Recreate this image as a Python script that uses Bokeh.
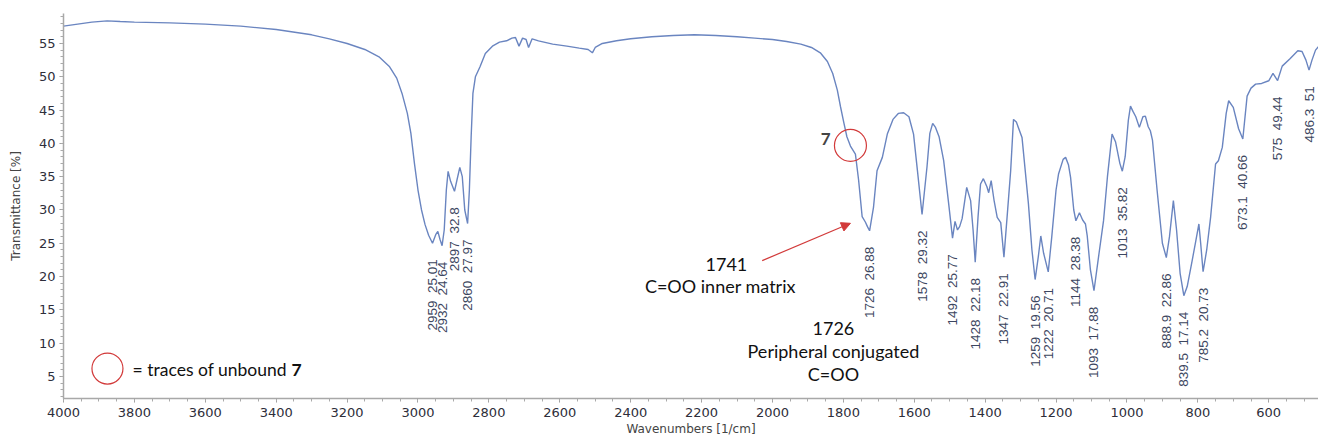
from bokeh.plotting import figure
from bokeh.models import Range1d, SingleIntervalTicker, Label, Arrow, NormalHead, ColumnDataSource
from bokeh.core.properties import value
from bokeh.embed import file_html
from bokeh.resources import INLINE

# ---- spectrum (wavenumber 1/cm, transmittance %) ----
wavenumber = [
    4000, 3960, 3920, 3877, 3840, 3800, 3700, 3600, 3500, 3400, 3300, 3250, 3200, 3150,
    3110, 3080, 3060, 3045, 3030, 3020, 3010, 3000, 2990, 2980, 2970, 2959, 2950, 2944,
    2938, 2932, 2926, 2920, 2915, 2908, 2902, 2897, 2890, 2882, 2875, 2868, 2860, 2855,
    2850, 2845, 2838, 2825, 2810, 2790, 2770, 2750, 2735, 2725, 2715, 2705, 2695, 2688,
    2678, 2660, 2620, 2580, 2545, 2520, 2508, 2500, 2480, 2440, 2400, 2340, 2280, 2220,
    2160, 2100, 2050, 2000, 1960, 1920, 1890, 1865, 1845, 1830, 1817, 1808, 1799, 1790,
    1780, 1766, 1757, 1747, 1738, 1732, 1726, 1715, 1705, 1690, 1676, 1660, 1645, 1630,
    1615, 1602, 1591, 1578, 1564, 1556, 1548, 1540, 1530, 1517, 1503, 1492, 1485, 1478,
    1472, 1465, 1452, 1441, 1434, 1428, 1420, 1413, 1405, 1395, 1390, 1383, 1375, 1366,
    1356, 1347, 1338, 1328, 1320, 1312, 1296, 1278, 1268, 1259, 1250, 1243, 1235, 1222,
    1212, 1200, 1193, 1180, 1173, 1165, 1159, 1150, 1144, 1134, 1125, 1117, 1112, 1103,
    1093, 1080, 1066, 1055, 1042, 1032, 1020, 1013, 1005, 996, 990, 983, 975, 965, 955,
    948, 940, 934, 928, 915, 900, 888.9, 880, 869, 860, 850, 839.5, 830, 816, 807, 797,
    792, 785.2, 775, 764, 750, 742, 731, 720, 713, 700, 685, 673.1, 661, 650, 637, 620,
    600, 588, 575, 562, 540, 518, 506, 495, 486.3, 478, 468, 460,
]
transmittance = [
    57.6, 57.9, 58.2, 58.4, 58.3, 58.2, 58.1, 57.9, 57.6, 57.1, 56.3, 55.7, 55.0, 54.1,
    53.0, 51.5, 49.8, 47.5, 44.5, 41.5, 37.0, 33.0, 30.0, 27.8, 26.2, 25.01, 26.3, 26.8,
    25.6, 24.64, 27.0, 33.0, 35.8, 34.3, 33.5, 32.8, 34.5, 36.4, 35.0, 30.0, 27.97, 33.0,
    41.0, 47.5, 50.0, 51.5, 53.5, 54.6, 55.2, 55.4, 55.8, 55.9, 54.6, 55.8, 55.6, 54.4,
    55.7, 55.4, 54.9, 54.6, 54.3, 54.1, 53.6, 54.4, 55.0, 55.4, 55.7, 56.0, 56.2, 56.3,
    56.2, 56.0, 55.8, 55.6, 55.3, 54.9, 54.4, 53.6, 52.3, 50.5, 48.0, 45.5, 43.2, 41.0,
    39.6, 38.4, 34.5, 29.0, 28.2, 27.5, 26.88, 30.4, 35.9, 37.9, 41.4, 43.6, 44.5, 44.6,
    44.0, 41.4, 35.9, 29.32, 36.5, 41.5, 43.0, 42.4, 41.0, 37.4, 31.0, 25.77, 28.3, 27.0,
    27.5, 28.7, 33.4, 31.4, 27.0, 22.18, 29.0, 33.9, 34.7, 33.5, 32.6, 34.4, 31.5, 28.9,
    28.1, 22.91, 29.0, 35.9, 43.6, 43.2, 40.9, 31.0, 24.0, 19.56, 23.0, 26.1, 23.5, 20.71,
    26.0, 33.0, 35.4, 37.6, 37.9, 36.8, 34.9, 30.0, 28.38, 29.6, 28.5, 27.9, 26.1, 21.0,
    17.88, 23.0, 28.4, 35.0, 41.4, 40.2, 37.0, 35.82, 38.0, 43.5, 45.6, 44.8, 44.0, 42.4, 44.0,
    44.1, 42.5, 41.9, 40.5, 33.0, 25.0, 22.86, 26.0, 31.4, 27.0, 20.5, 17.14, 18.5, 22.4, 25.0, 27.9,
    25.0, 20.73, 24.0, 28.9, 36.9, 37.4, 39.4, 44.5, 46.4, 45.4, 42.2, 40.66, 47.1, 48.3, 48.9, 49.0,
    49.4, 50.5, 49.44, 51.6, 52.7, 53.9, 53.8, 52.5, 51.0, 52.5, 54.0, 54.5,
]

# ---- labelled peaks ----
peak_wn = [2959, 2932, 2897, 2860, 1726, 1578, 1492, 1428, 1347, 1259, 1222, 1144,
           1093, 1013, 888.9, 839.5, 785.2, 673.1, 575, 486.3]
peak_t = [25.01, 24.64, 32.8, 27.97, 26.88, 29.32, 25.77, 22.18, 22.91, 19.56, 20.71, 28.38,
          17.88, 35.82, 22.86, 17.14, 20.73, 40.66, 49.44, 51]
peak_pos = ["2959", "2932", "2897", "2860", "1726", "1578", "1492", "1428", "1347", "1259",
            "1222", "1144", "1093", "1013", "888.9", "839.5", "785.2", "673.1", "575", "486.3"]
peak_val = ["25.01", "24.64", "32.8", "27.97", "26.88", "29.32", "25.77", "22.18", "22.91",
            "19.56", "20.71", "28.38", "17.88", "35.82", "22.86", "17.14", "20.73", "40.66",
            "49.44", "51"]
peak_text = [a + "\u00a0\u00a0" + b for a, b in zip(peak_pos, peak_val)]

p = figure(width=1318, height=441, output_backend="svg", toolbar_location=None,
           x_range=Range1d(4000, 459.6), y_range=Range1d(1.7, 59.5),
           min_border_left=63, min_border_right=0, min_border_top=13, min_border_bottom=43,
           background_fill_color="white", border_fill_color="white")
p.grid.visible = False
p.outline_line_color = None

p.xaxis.ticker = SingleIntervalTicker(interval=200, num_minor_ticks=4)
p.yaxis.ticker = SingleIntervalTicker(interval=5, num_minor_ticks=5)
for ax in (p.xaxis[0], p.yaxis[0]):
    ax.axis_line_color = "#a8a8a8"
    ax.axis_line_width = 1.5
    ax.major_tick_line_color = "#999999"
    ax.minor_tick_line_color = "#aaaaaa"
    ax.major_tick_in = 0
    ax.major_tick_out = 4
    ax.minor_tick_in = 0
    ax.minor_tick_out = 3
    ax.major_label_text_font = "DejaVu Sans"
    ax.major_label_text_font_size = "13px"
    ax.major_label_text_color = "#2e2e3a"
    ax.axis_label_text_font = "DejaVu Sans"
    ax.axis_label_text_font_size = "12px"
    ax.axis_label_text_font_style = "normal"
    ax.axis_label_text_color = "#444444"
p.xaxis.axis_label = "Wavenumbers [1/cm]"
p.yaxis.axis_label = "Transmittance [%]"
p.xaxis.major_label_standoff = 5
p.xaxis.axis_label_standoff = 2
p.yaxis.major_label_standoff = 4
p.yaxis.axis_label_standoff = 13

p.line(wavenumber, transmittance, line_color="#6a85c0", line_width=1.4)

src = ColumnDataSource(dict(x=peak_wn, y=peak_t, t=peak_text))
p.text(x="x", y="y", text="t", source=src, angle=1.5708, text_align="right",
       text_baseline="middle", y_offset=16, text_font=value("Liberation Sans"),
       text_font_size="13.5px", text_color="#3c4660")

# circle marking traces of unbound 7
p.scatter([1780], [39.7], marker="circle", size=32, fill_color=None, line_color="#d23a3a", line_width=1.2)
p.add_layout(Label(x=1850, y=40.7, text="7", text_font="Lato", text_font_style="bold",
                   text_font_size="17px", text_align="center", text_baseline="middle"))

# arrow to 1741 shoulder
p.add_layout(Arrow(x_start=2029, y_start=22.4, x_end=1780, y_end=28.0, line_color="#d23a3a",
                   line_width=1.2, end=NormalHead(size=9, fill_color="#d23a3a", line_color="#d23a3a")))

for x, y, t in [(2130, 21.8, "1741"), (2147, 18.6, "C=OO inner matrix"),
                (1828, 12.2, "1726"), (1828, 8.8, "Peripheral conjugated"), (1828, 5.4, "C=OO")]:
    p.add_layout(Label(x=x, y=y, text=t, text_font="Lato", text_font_size="18px",
                       text_align="center", text_baseline="middle", text_color="#111111"))

# legend
p.scatter([3876], [6.2], marker="circle", size=31, fill_color=None, line_color="#d23a3a", line_width=1.2)
p.add_layout(Label(x=3805, y=6.05, text="= traces of unbound", text_font="Lato", text_font_size="17.5px",
                   text_align="left", text_baseline="middle", text_color="#111111"))
p.add_layout(Label(x=3357, y=6.05, text="7", text_font="Lato", text_font_style="bold", text_font_size="17.5px",
                   text_align="left", text_baseline="middle", text_color="#111111"))

open("out.html", "w").write(file_html(p, INLINE))
